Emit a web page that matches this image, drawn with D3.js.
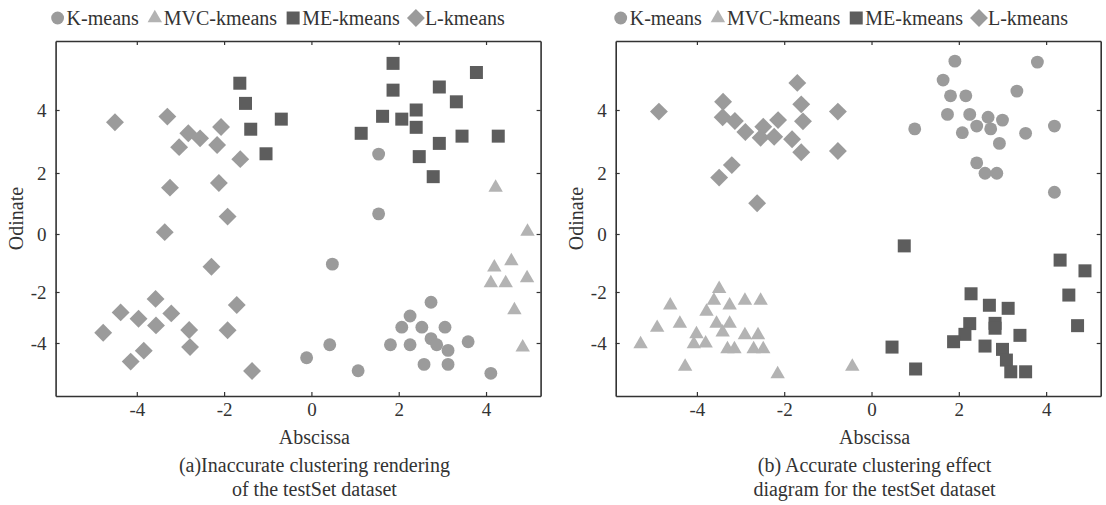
<!DOCTYPE html>
<html>
<head>
<meta charset="utf-8">
<script src="https://cdn.jsdelivr.net/npm/d3@7"></script>
<style>
  body { margin: 0; background: #fff; }
  text { font-family: 'Liberation Serif', 'Times New Roman', serif; fill: #333; }
</style>
</head>
<body>
<div class="container"></div>
<script>
const w = 1106;
const h = 505;

const seriesNames = ['K-means', 'MVC-kmeans', 'ME-kmeans', 'L-kmeans'];
const xTicks = [-4, -2, 0, 2, 4];
const yTicks = [-4, -2, 0, 2, 4];
const captionA = ['(a)Inaccurate clustering rendering', 'of the testSet dataset'];
const captionB = ['(b) Accurate clustering effect', 'diagram for the testSet dataset'];

// panel (a)
const kmeansA = [
  [1.54, 2.60], [1.54, 0.66], [0.48, -1.04], [-0.11, -4.58], [0.42, -4.07],
  [1.07, -5.09], [1.81, -4.07], [2.26, -4.07], [2.07, -3.38], [2.26, -2.94],
  [2.74, -2.40], [2.53, -3.38], [3.06, -3.38], [2.74, -3.83], [2.87, -4.07],
  [3.13, -4.29], [3.59, -3.95], [2.58, -4.84], [3.13, -4.84], [4.11, -5.19],
];
const mvcA = [
  [4.22, 1.52], [4.95, 0.08], [4.19, -1.15], [4.58, -0.93], [4.11, -1.69],
  [4.45, -1.69], [4.94, -1.52], [4.65, -2.71], [4.84, -4.17],
];
const meA = [
  [-1.64, 4.85], [-1.51, 4.21], [-1.39, 3.39], [-0.69, 3.71], [-1.04, 2.61],
  [1.87, 5.48], [1.87, 4.63], [3.78, 5.19], [2.93, 4.73], [3.32, 4.26],
  [1.63, 3.80], [2.07, 3.71], [2.40, 4.00], [2.40, 3.45], [1.14, 3.26],
  [2.93, 2.94], [3.45, 3.17], [4.28, 3.17], [2.47, 2.52], [2.79, 1.88],
];
const lA = [
  [-4.50, 3.61], [-3.30, 3.79], [-2.82, 3.26], [-2.55, 3.10], [-3.03, 2.82],
  [-2.07, 3.46], [-2.16, 2.89], [-1.63, 2.44], [-3.24, 1.52], [-2.12, 1.67],
  [-1.92, 0.57], [-3.36, 0.06], [-2.29, -1.13], [-3.57, -2.27], [-4.37, -2.80],
  [-3.96, -3.05], [-4.77, -3.60], [-3.56, -3.31], [-3.21, -2.84], [-2.80, -3.49],
  [-2.78, -4.16], [-3.84, -4.30], [-4.14, -4.73], [-1.71, -2.51], [-1.92, -3.50],
  [-1.36, -5.10],
];

// panel (b)
const kmeansB = [
  [1.91, 5.55], [3.80, 5.52], [1.64, 4.95], [1.81, 4.45], [2.16, 4.45],
  [3.33, 4.60], [1.74, 3.86], [2.25, 3.86], [2.67, 3.77], [3.00, 3.68],
  [2.41, 3.49], [2.73, 3.40], [2.08, 3.28], [3.53, 3.26], [4.19, 3.49],
  [0.99, 3.40], [2.93, 2.94], [2.41, 2.32], [2.60, 1.99], [2.87, 1.99],
  [4.19, 1.37],
];
const mvcB = [
  [-5.29, -4.04], [-4.91, -3.40], [-4.61, -2.52], [-4.39, -3.24], [-4.01, -3.65],
  [-4.07, -4.04], [-3.80, -4.01], [-4.27, -4.93], [-3.78, -2.77], [-3.61, -2.34],
  [-3.49, -1.89], [-3.25, -2.52], [-3.55, -3.24], [-3.25, -3.24], [-3.41, -3.58],
  [-3.30, -4.24], [-3.14, -4.24], [-2.90, -2.34], [-2.54, -2.34], [-2.90, -3.69],
  [-2.60, -3.69], [-2.70, -4.24], [-2.48, -4.24], [-2.15, -5.22], [-0.44, -4.93],
];
const meB = [
  [0.75, -0.41], [0.47, -4.16], [1.01, -5.02], [2.28, -2.07], [2.70, -2.52],
  [3.13, -2.64], [2.25, -3.24], [2.14, -3.66], [1.88, -3.95], [2.83, -3.23],
  [2.83, -3.42], [3.40, -3.70], [2.60, -4.12], [3.00, -4.25], [3.09, -4.67],
  [3.19, -5.13], [3.53, -5.13], [4.32, -0.90], [4.89, -1.27], [4.52, -2.12],
  [4.72, -3.32],
];
const lB = [
  [-4.87, 3.95], [-3.40, 4.26], [-3.41, 3.77], [-3.13, 3.65], [-2.89, 3.30],
  [-2.48, 3.47], [-2.54, 3.12], [-2.14, 3.68], [-2.23, 3.15], [-1.82, 3.07],
  [-1.70, 4.86], [-1.61, 4.18], [-1.57, 3.64], [-1.61, 2.66], [-0.77, 3.95],
  [-0.77, 2.70], [-3.20, 2.25], [-3.49, 1.85], [-2.62, 1.01],
];

const colors = ['#9b9b9b', '#b3b3b3', '#5d5d5d', '#9b9b9b'];
const shapes = [
  d3.symbol().type(d3.symbolCircle).size(130),
  d3.symbol().type(d3.symbolTriangle).size(90),
  d3.symbol().type(d3.symbolSquare).size(169),
  d3.symbol().type(d3.symbolSquare).size(160),
];
const rotations = [0, 0, 0, 45];

let svg = null;

window.onload = () => {
  svg = d3.select('.container').append('svg').attr('width', w).attr('height', h);
  drawPanel(55.6, 2, [kmeansA, mvcA, meA, lA], captionA);
  drawPanel(615.7, 5, [kmeansB, mvcB, meB, lB], captionB);
};

function drawPanel(left, legendShift, series, caption) {
  const top = 41;
  const bottom = 396;
  const pw = 485;

  const x = d3.scaleLinear().domain([-5.86, 5.25]).range([left, left + pw]);
  // the source figure's vertical axis is not evenly spaced
  const y = d3.scaleLinear()
    .domain([-6.08, -4, -2, 0, 2, 4, 6.19])
    .range([bottom, 343, 292, 234, 173, 110, top]);

  const g = svg.append('g');

  // points
  series.forEach((pts, i) => {
    g.selectAll('path.s' + i)
      .data(pts)
      .enter()
      .append('path')
      .attr('class', 's' + i)
      .attr('d', shapes[i])
      .attr('fill', colors[i])
      .attr('transform', (d) => `translate(${x(d[0])},${y(d[1])}) rotate(${rotations[i]})`);
  });

  // axes, ticks pointing inward
  const fmt = (d) => String(d);
  const axes = [
    [d3.axisBottom(x).tickValues(xTicks).tickFormat(fmt).tickSize(-4).tickSizeOuter(0).tickPadding(7), `translate(0,${bottom})`],
    [d3.axisTop(x).tickValues(xTicks).tickSize(-4).tickSizeOuter(0).tickFormat(''), `translate(0,${top})`],
    [d3.axisLeft(y).tickValues(yTicks).tickFormat(fmt).tickSize(-4).tickSizeOuter(0).tickPadding(9), `translate(${left},0)`],
    [d3.axisRight(y).tickValues(yTicks).tickSize(-4).tickSizeOuter(0).tickFormat(''), `translate(${left + pw},0)`],
  ];
  axes.forEach(([ax, tr]) => {
    const a = g.append('g').attr('transform', tr).call(ax);
    a.attr('font-family', null);
    a.select('.domain').attr('stroke', '#333').attr('stroke-width', 1.6);
    a.selectAll('.tick line').attr('stroke', '#333').attr('stroke-width', 1.2);
    a.selectAll('.tick text')
      .attr('fill', '#333')
      .style('font-family', "'Liberation Serif', serif")
      .style('font-size', '19px');
  });

  // axis titles
  g.append('text')
    .attr('transform', `translate(${left - 33},${(top + bottom) / 2}) rotate(-90)`)
    .attr('text-anchor', 'middle')
    .attr('font-size', '20px')
    .text('Odinate');

  const cx = x(0) + 3;
  g.append('text').attr('x', cx).attr('y', 444).attr('text-anchor', 'middle')
    .attr('font-size', '20px').text('Abscissa');
  caption.forEach((line, i) => {
    g.append('text').attr('x', cx).attr('y', 472 + i * 24).attr('text-anchor', 'middle')
      .attr('font-size', '20px').text(line);
  });

  // legend
  let lx = left + legendShift;
  const ly = 18;
  seriesNames.forEach((name, i) => {
    g.append('path')
      .attr('d', shapes[i])
      .attr('fill', colors[i])
      .attr('transform', `translate(${lx},${ly}) rotate(${rotations[i]})`);
    const t = g.append('text')
      .attr('x', lx + 9)
      .attr('y', ly + 7)
      .attr('font-size', '20px')
      .text(name);
    lx += 9 + t.node().getComputedTextLength() + 16;
  });
}
</script>
</body>
</html>
